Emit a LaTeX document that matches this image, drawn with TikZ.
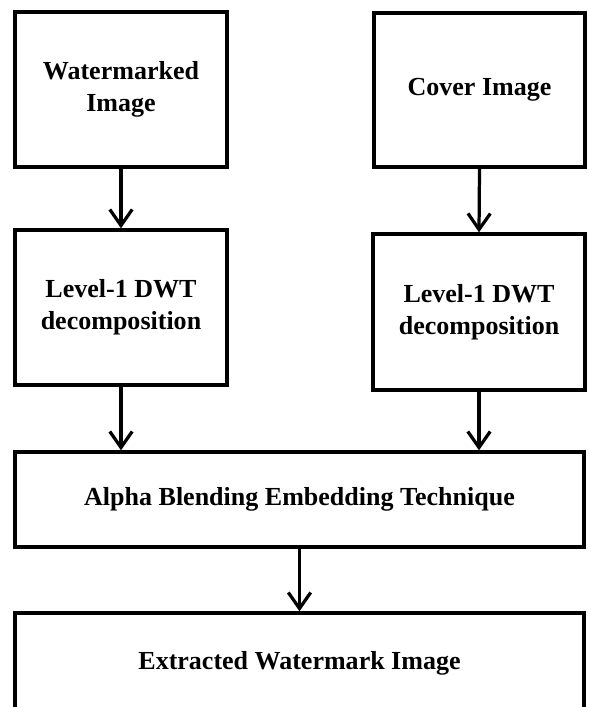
\documentclass[tikz,border=0pt]{standalone}
\usepackage{fontspec}
\setmainfont{Liberation Serif}
\usetikzlibrary{arrows.meta}

\tikzset{
    blockbox/.style={draw, line width=2.4pt, align=center, inner sep=0pt,
        font=\fontsize{18.5}{22.5}\selectfont\bfseries},
    flowarrow/.style={line width=2.3pt, -{Straight Barb[length=4mm, width=5.6mm]}}
}

\begin{document}
\begin{tikzpicture}[x=0.025cm, y=-0.025cm]
    \useasboundingbox (0,0) rectangle (589,707);

    % Inputs
    \node[blockbox, minimum width=5.3cm, minimum height=3.875cm] (wmimg) at (121, 89.5) {Watermarked\\Image};
    \node[blockbox, minimum width=5.275cm, minimum height=3.85cm] (cover) at (479.5, 90) {Cover Image};

    % Decomposition
    \node[blockbox, minimum width=5.3cm, minimum height=3.875cm] (dwtL) at (121, 307.5) {Level-1 DWT\\decomposition};
    \node[blockbox, minimum width=5.3cm, minimum height=3.9cm] (dwtR) at (479, 312) {Level-1 DWT\\decomposition};

    % Embedding and output
    \node[blockbox, minimum width=14.225cm, minimum height=2.375cm] (alpha) at (299.5, 499.5) {Alpha Blending Embedding Technique};
    \node[blockbox, minimum width=14.225cm, minimum height=2.5cm] (extract) at (299.5, 663) {Extracted Watermark Image};

    \draw[flowarrow] (wmimg.south) -- (dwtL.north);
    \draw[flowarrow] (cover.south) -- (dwtR.north);
    \draw[flowarrow] (dwtL.south) -- (dwtL.south |- alpha.north);
    \draw[flowarrow] (dwtR.south) -- (dwtR.south |- alpha.north);
    \draw[flowarrow] (alpha.south) -- (extract.north);
\end{tikzpicture}
\end{document}
